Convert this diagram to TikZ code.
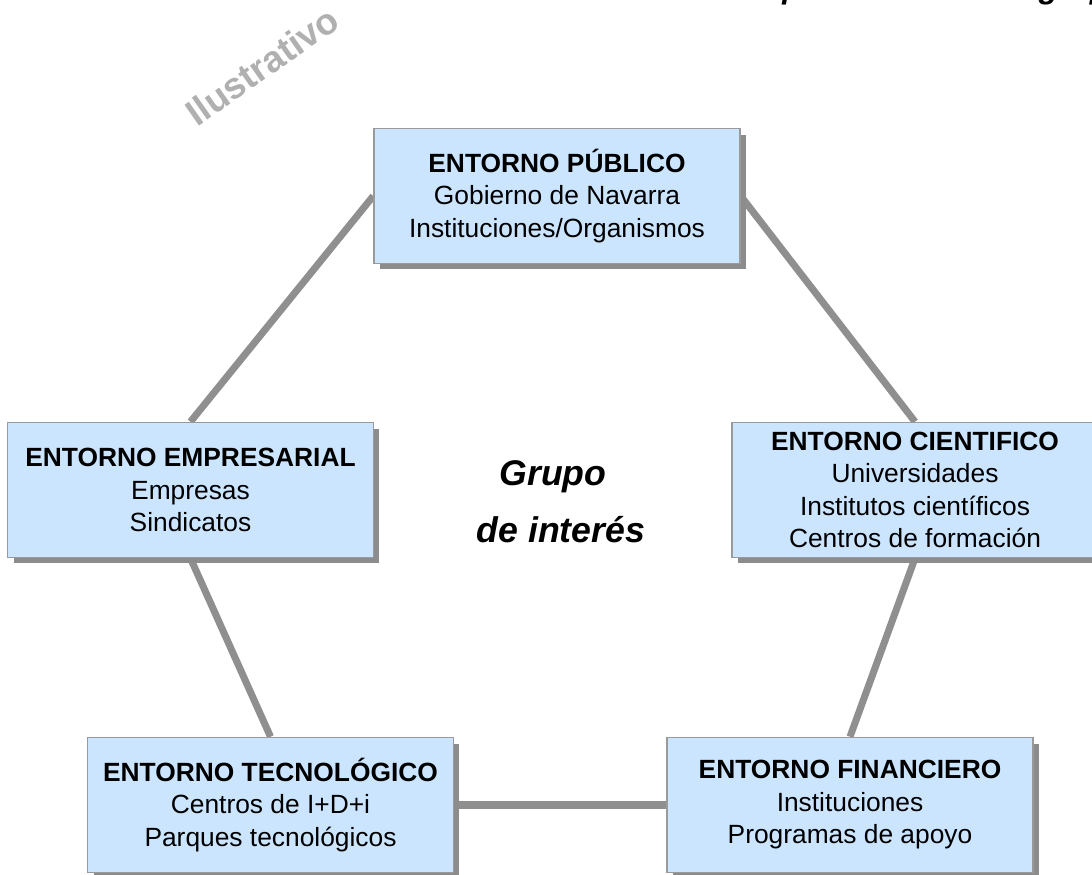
\documentclass[tikz,border=0pt]{standalone}
\usepackage{fontspec}
\setmainfont{Liberation Sans}
\usetikzlibrary{shadows,backgrounds}
\definecolor{cajaazul}{HTML}{CCE5FF}
\definecolor{bordegris}{HTML}{9A9A9A}
\definecolor{sombragris}{HTML}{8C8C8C}
\definecolor{lineagris}{HTML}{8F8F8F}
\definecolor{marcagris}{HTML}{B0B0B0}
\begin{document}
\begin{tikzpicture}[x=0.02cm,y=-0.02cm,
    entorno/.style={draw=bordegris, line width=0.9pt, fill=cajaazul,
        minimum width=7.32cm, minimum height=2.7cm, inner sep=0pt, align=center,
        font=\fontsize{15}{18.5}\selectfont,
        drop shadow={shadow xshift=0.12cm, shadow yshift=-0.12cm, opacity=1, fill=sombragris}},
    enlace/.style={draw=lineagris, line width=4pt},
    centro/.style={anchor=base, font=\fontsize{20.3}{24}\selectfont\bfseries\itshape}]
        \useasboundingbox (0,0) rectangle (1092,875);
        \clip (0,0) rectangle (1092,875);
        % titulo cortado y marca
        \node[anchor=base west, inner sep=0pt, font=\fontsize{18}{22}\selectfont\bfseries\itshape] (titulo) at (738,-1) {Mapa relacional del grupo de interés};
        \node[rotate=35, text=marcagris, font=\fontsize{21}{25}\selectfont\bfseries] (marca) at (262,66) {Ilustrativo};
        % entornos
        \node[entorno] (publico) at (557,196) {\textbf{ENTORNO PÚBLICO}\\Gobierno de Navarra\\Instituciones/Organismos};
        \node[entorno] (empresarial) at (190.5,490) {\textbf{ENTORNO EMPRESARIAL}\\Empresas\\Sindicatos};
        \node[entorno] (cientifico) at (915,490) {\textbf{ENTORNO CIENTIFICO}\\Universidades\\Institutos científicos\\Centros de formación};
        \node[entorno] (tecnologico) at (270.5,805) {\textbf{ENTORNO TECNOLÓGICO}\\Centros de I+D+i\\Parques tecnológicos};
        \node[entorno] (financiero) at (850,805) {\textbf{ENTORNO FINANCIERO}\\Instituciones\\Programas de apoyo};
        \node[centro] (grupo) at (553,485) {Grupo};
        \node[centro] (interes) at (561,542) {de interés};
        \begin{scope}[on background layer]
            \draw[enlace] (publico.west) -- (empresarial.north);
            \draw[enlace] (publico.east) -- (cientifico.north);
            \draw[enlace] (empresarial.south) -- (tecnologico.north);
            \draw[enlace] (cientifico.south) -- (financiero.north);
            \draw[enlace] (tecnologico.east) -- (financiero.west);
        \end{scope}
\end{tikzpicture}
\end{document}
